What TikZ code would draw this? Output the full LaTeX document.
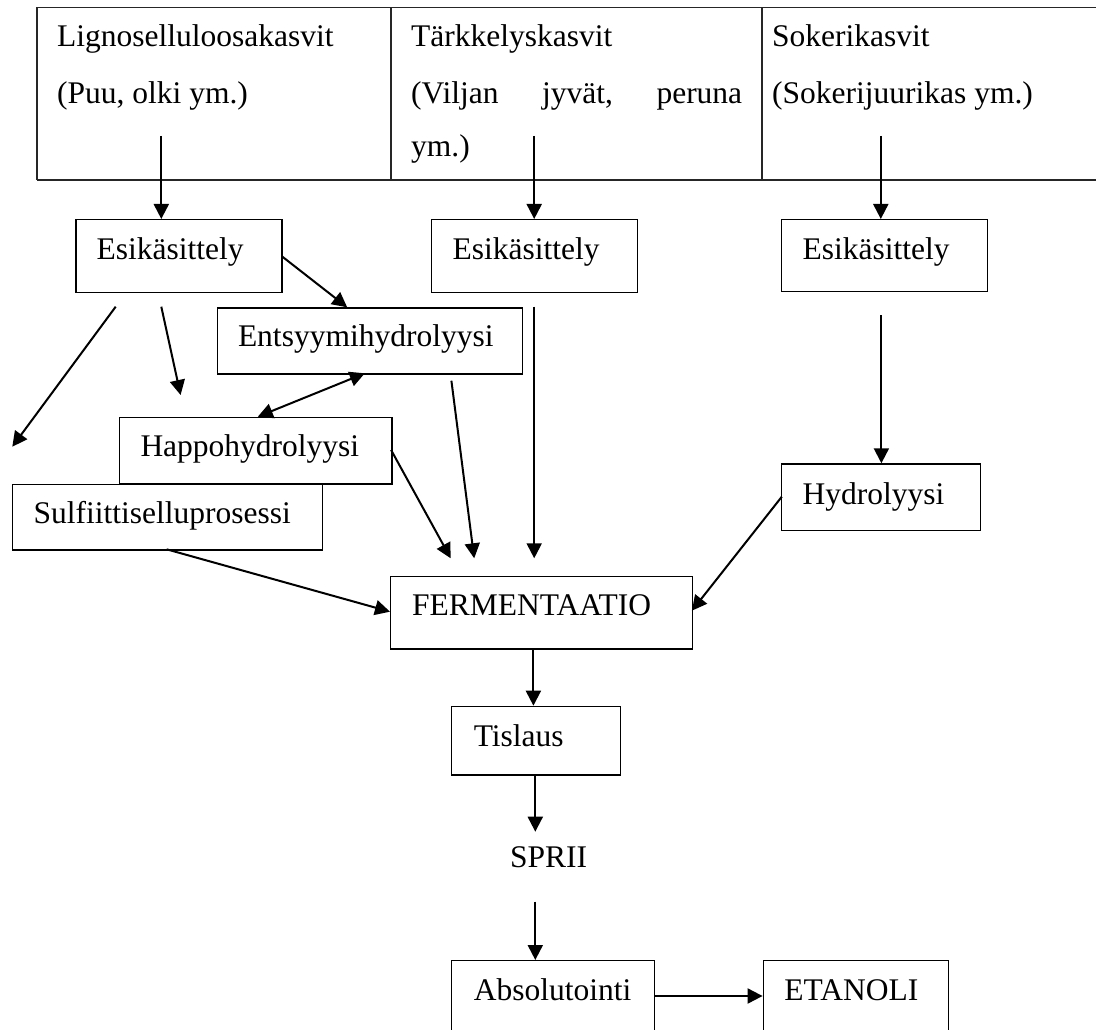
\documentclass[tikz,border=0pt]{standalone}
\usepackage{fontspec}
\setmainfont{Liberation Serif}
\usetikzlibrary{arrows.meta}
\begin{document}
\begin{tikzpicture}[x=1pt,y=-1pt,
  font=\fontsize{31.5}{38}\selectfont,
  tabline/.style={line width=1.1pt,draw=black!85},
  box/.style={draw,line width=1.4pt,inner sep=0pt,anchor=north west},
  txt/.style={anchor=base west,inner sep=0pt},
  arr/.style={line width=2pt,-{Triangle[width=15pt,length=15pt]}},
  darr/.style={line width=2pt,{Triangle[width=15pt,length=15pt]}-{Triangle[width=15pt,length=15pt]}}]
\useasboundingbox (0,0) rectangle (1096,1030);
% table
\draw[tabline] (37,7.3) -- (1096,7.3);
\draw[tabline] (37,180) -- (1096,180);
\draw[tabline] (37,7.3) -- (37,180);
\draw[tabline] (391,7.3) -- (391,180);
\draw[tabline] (762,7.3) -- (762,180);
\node[txt] (c1a) at (57,46.7) {Lignoselluloosakasvit};
\node[txt] (c1b) at (57,103.3) {(Puu, olki ym.)};
\node[txt] (c2a) at (411,46.7) {Tärkkelyskasvit};
\node[txt] (c2b) at (411,103.3) {\hbox to 331pt{(Viljan\hfill jyvät,\hfill peruna}};
\node[txt] (c2c) at (411,157) {ym.)};
\node[txt] (c3a) at (772,46.7) {Sokerikasvit};
\node[txt] (c3b) at (772,103.3) {(Sokerijuurikas ym.)};
% boxes
\node[box,minimum width=205.9pt,minimum height=72.7pt] (esik1) at (75.4,219) {};
\node[box,minimum width=206.3pt,minimum height=72.7pt] (esik2) at (430.7,219) {};
\node[box,minimum width=206.2pt,minimum height=72pt] (esik3) at (780.8,219) {};
\node[box,minimum width=304.8pt,minimum height=66pt] (entsy) at (216.8,307.3) {};
\node[box,minimum width=272.2pt,minimum height=66.6pt] (happo) at (118.9,416.7) {};
\node[box,minimum width=310.4pt,minimum height=65.3pt] (sulf) at (11.6,484) {};
\node[box,minimum width=198.5pt,minimum height=66.7pt] (hydro) at (781,463.3) {};
\node[box,minimum width=301.9pt,minimum height=72.6pt] (ferm) at (390,575.7) {};
\node[box,minimum width=168.9pt,minimum height=68.6pt] (tisl) at (450.8,705.7) {};
\node[box,minimum width=203.2pt,minimum height=90pt] (absol) at (450.8,960) {};
\node[box,minimum width=185pt,minimum height=90pt] (etan) at (762.6,960) {};
% texts
\node[txt] (tesik1) at (96.5,259.3) {Esikäsittely};
\node[txt] (tesik2) at (452.5,259.3) {Esikäsittely};
\node[txt] (tesik3) at (802.4,259.3) {Esikäsittely};
\node[txt] (tentsy) at (237.8,346.7) {Entsyymihydrolyysi};
\node[txt] (thappo) at (140.3,456.7) {Happohydrolyysi};
\node[txt] (tsulf) at (33.3,523.3) {Sulfiittiselluprosessi};
\node[txt] (thydro) at (802.4,504) {Hydrolyysi};
\node[txt] (tferm) at (412,615) {FERMENTAATIO};
\node[txt] (ttisl) at (473.6,746) {Tislaus};
\node[txt] (sprii) at (510,867.3) {SPRII};
\node[txt] (tabsol) at (473.6,1000) {Absolutointi};
\node[txt] (tetan) at (784.1,1000) {ETANOLI};
% connector end points
\coordinate (s1) at (161.3,136);
\coordinate (s2) at (534.2,136);
\coordinate (s3) at (880.8,136);
\coordinate (s4) at (282.4,256.7);
\coordinate (e4) at (347.2,307.3);
\coordinate (s5) at (115.7,306.7);
\coordinate (e5) at (12.3,446.7);
\coordinate (s6) at (161.3,306.7);
\coordinate (e6) at (180.6,395);
\coordinate (s7) at (257.8,416.7);
\coordinate (e7) at (364.8,373.3);
\coordinate (s8) at (391.1,450);
\coordinate (e8) at (450.7,558.3);
\coordinate (s9) at (451.4,380.7);
\coordinate (e9) at (474.2,558.3);
\coordinate (s10) at (534.2,306.7);
\coordinate (e10) at (534.2,558.3);
\coordinate (s11) at (166.6,549.3);
\coordinate (e11) at (390,611.7);
\coordinate (s12) at (881.4,315);
\coordinate (s13) at (781.8,496.7);
\coordinate (e13) at (691.9,610.7);
\coordinate (x14) at (533.4,0);
\coordinate (x15) at (535.3,0);
\coordinate (s16) at (535.3,901.7);
\coordinate (y17) at (0,996);
% connectors
\draw[arr] (s1) -- (s1 |- esik1.north);
\draw[arr] (s2) -- (s2 |- esik2.north);
\draw[arr] (s3) -- (s3 |- esik3.north);
\draw[arr] (s4) -- (e4);
\draw[arr] (s5) -- (e5);
\draw[arr] (s6) -- (e6);
\draw[darr] (s7) -- (e7);
\draw[arr] (s8) -- (e8);
\draw[arr] (s9) -- (e9);
\draw[arr] (s10) -- (e10);
\draw[arr] (s11) -- (e11);
\draw[arr] (s12) -- (s12 |- hydro.north);
\draw[arr] (s13) -- (e13);
\draw[arr] (x14 |- ferm.south) -- (x14 |- tisl.north);
\draw[arr] (x15 |- tisl.south) -- (x15 |- 0,831.7);
\draw[arr] (s16) -- (s16 |- absol.north);
\draw[arr] (absol.east |- y17) -- (etan.west |- y17);
\end{tikzpicture}
\end{document}
